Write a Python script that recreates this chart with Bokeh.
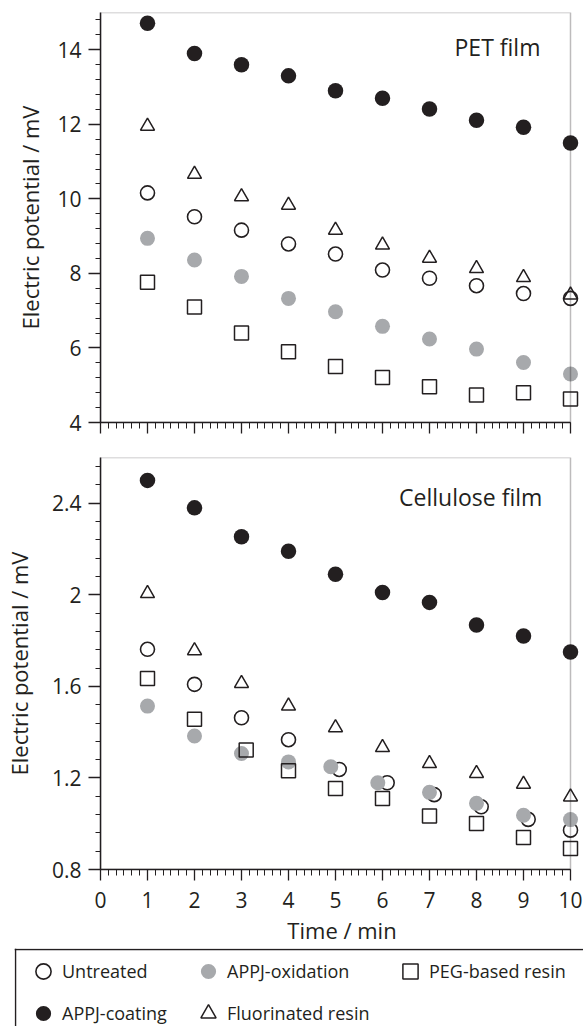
import math
from bokeh.plotting import figure
from bokeh.layouts import column, row
from bokeh.models import (FixedTicker, NumeralTickFormatter, CustomJSTickFormatter, BoxAnnotation,
                          Label, Legend, LegendItem, Span)
from bokeh.embed import file_html
from bokeh.resources import INLINE

# ---------------- data ----------------
time_min = [1, 2, 3, 4, 5, 6, 7, 8, 9, 10]

pet_untreated = [10.16, 9.52, 9.16, 8.79, 8.52, 8.09, 7.87, 7.67, 7.46, 7.33]
pet_oxidation = [8.94, 8.36, 7.92, 7.33, 6.97, 6.58, 6.24, 5.97, 5.61, 5.30]
pet_peg = [7.76, 7.10, 6.40, 5.90, 5.50, 5.21, 4.96, 4.74, 4.80, 4.63]
pet_coating = [14.71, 13.90, 13.60, 13.30, 12.90, 12.70, 12.41, 12.11, 11.92, 11.50]
pet_fluor = [11.95, 10.66, 10.06, 9.83, 9.16, 8.76, 8.41, 8.13, 7.89, 7.42]

cel_untreated_t = [1, 2, 3, 4, 5.08, 6.1, 7.1, 8.1, 9.1, 10]
cel_untreated = [1.762, 1.609, 1.463, 1.367, 1.237, 1.179, 1.127, 1.074, 1.019, 0.972]
cel_oxidation_t = [1, 2, 3, 4, 4.9, 5.9, 7, 8, 9, 10]
cel_oxidation = [1.514, 1.383, 1.307, 1.270, 1.249, 1.179, 1.137, 1.089, 1.037, 1.018]
cel_peg_t = [1, 2, 3.1, 4, 5, 6, 7, 8, 9, 10]
cel_peg = [1.635, 1.456, 1.322, 1.231, 1.154, 1.110, 1.034, 1.001, 0.940, 0.892]
cel_coating = [2.50, 2.38, 2.254, 2.19, 2.09, 2.01, 1.967, 1.868, 1.82, 1.75]
cel_fluor = [2.006, 1.756, 1.613, 1.514, 1.420, 1.333, 1.263, 1.220, 1.173, 1.117]

x_ticks = [0, 1, 2, 3, 4, 5, 6, 7, 8, 9, 10]
pet_yticks = [4, 6, 8, 10, 12, 14]
cel_yticks = [0.8, 1.2, 1.6, 2.0, 2.4]

series_names = ["Untreated", "APPJ-oxidation", "PEG-based resin", "APPJ-coating", "Fluorinated resin"]

# ---------------- style ----------------
INK = "#231f20"
GRAY = "#a7a9ac"
FONT = "Open Sans"
NAN = float("nan")

x_minor = [i / 6 for i in range(61)]


def style_axes(p):
    for ax in p.axis:
        ax.axis_line_color = INK
        ax.axis_line_width = 1.5
        ax.major_tick_line_color = INK
        ax.major_tick_line_width = 1.3
        ax.minor_tick_line_color = INK
        ax.minor_tick_line_width = 1
        ax.major_tick_in = 0
        ax.minor_tick_in = 0
        ax.major_label_text_font = FONT
        ax.major_label_text_font_size = "21px"
        ax.major_label_text_color = INK
        ax.axis_label_text_font = FONT
        ax.axis_label_text_font_size = "22px"
        ax.axis_label_text_font_style = "normal"
        ax.axis_label_text_color = INK
    p.xaxis.major_tick_out = 11
    p.xaxis.minor_tick_out = 6
    p.yaxis.major_tick_out = 12
    p.yaxis.minor_tick_out = 5


def panel(height, ylo, yhi, yticks, ystep, border_top, border_bottom, fmt, ylabel_standoff):
    p = figure(width=583, height=height, x_range=(0, 10.2766), y_range=(ylo, yhi),
               output_backend="svg", toolbar_location=None,
               min_border_left=100, min_border_right=0,
               min_border_top=border_top, min_border_bottom=border_bottom)
    p.outline_line_color = None
    p.grid.visible = False
    p.xaxis.ticker = FixedTicker(ticks=x_ticks, minor_ticks=x_minor)
    p.xaxis.bounds = (0, 10)
    n = int(round((yhi - ylo) / ystep))
    p.yaxis.ticker = FixedTicker(ticks=yticks, minor_ticks=[ylo + i * ystep for i in range(n + 1)])
    p.yaxis.formatter = NumeralTickFormatter(format=fmt)
    p.yaxis.axis_label = "Electric potential / mV"
    p.yaxis.major_label_standoff = 7
    p.yaxis.axis_label_standoff = ylabel_standoff
    style_axes(p)
    p.add_layout(BoxAnnotation(left=0, right=10, bottom=ylo, top=yhi, fill_color=None,
                               fill_alpha=0, line_color=INK, line_width=1.5))
    return p


def draw(p, tu, yu, to, yo, tp, yp, tc, yc, tf, yf):
    p.scatter(tu, yu, marker="circle", size=14, fill_color=None, line_color=INK, line_width=1.6)
    p.scatter(to, yo, marker="circle", size=15, fill_color=GRAY, line_color=None)
    p.scatter(tp, yp, marker="square", size=14, fill_color=None, line_color=INK, line_width=1.5)
    p.scatter(tf, yf, marker="triangle", size=14, fill_color=None, line_color=INK, line_width=1.5)
    p.scatter(tc, yc, marker="circle", size=15.5, fill_color=INK, line_color=None)


# ---------------- top panel: PET ----------------
top = panel(440, 4, 15, pet_yticks, 0.4, 12, 18, "0", 9)
top.xaxis.formatter = CustomJSTickFormatter(code="return ''")
top.xaxis.major_label_standoff = 0
draw(top, time_min, pet_untreated, time_min, pet_oxidation, time_min, pet_peg,
     time_min, pet_coating, time_min, pet_fluor)
top.add_layout(Label(x=9.36, y=14.08, text="PET film", text_align="right",
                     text_baseline="alphabetic", text_font=FONT, text_font_size="23px",
                     text_color=INK))

# ---------------- bottom panel: Cellulose ----------------
bot = panel(508, 0.8, 2.6, cel_yticks, 0.08, 17, 79, "0.[0]", 15)
bot.xaxis.axis_label = "Time / min"
bot.xaxis.major_label_standoff = 11
bot.xaxis.axis_label_standoff = 4
draw(bot, cel_untreated_t, cel_untreated, cel_oxidation_t, cel_oxidation, cel_peg_t, cel_peg,
     time_min, cel_coating, time_min, cel_fluor)
bot.add_layout(Label(x=9.40, y=2.428, text="Cellulose film", text_align="right",
                     text_baseline="alphabetic", text_font=FONT, text_font_size="23px",
                     text_color=INK))

# ---------------- legend strip ----------------
leg = figure(width=583, height=78, x_range=(-1, 568), y_range=(-77, 1),
             output_backend="svg", toolbar_location=None,
             x_axis_location=None, y_axis_location=None,
             min_border_left=14, min_border_right=0, min_border_top=0, min_border_bottom=0)
leg.outline_line_color = None
leg.grid.visible = False
leg.add_layout(Span(location=0, dimension="width", line_color=INK, line_width=1.5))
leg.add_layout(Span(location=0, dimension="height", line_color=INK, line_width=1.5))

r_unt = leg.scatter(x=[NAN], y=[NAN], marker="circle", fill_color=None, line_color=INK, line_width=1.6)
r_oxi = leg.scatter(x=[NAN], y=[NAN], marker="circle", fill_color=GRAY, line_color=None)
r_peg = leg.scatter(x=[NAN], y=[NAN], marker="square", fill_color=None, line_color=INK, line_width=1.5)
r_coa = leg.scatter(x=[NAN], y=[NAN], marker="circle", fill_color=INK, line_color=None)
r_flu = leg.scatter(x=[NAN], y=[NAN], marker="triangle", fill_color=None, line_color=INK, line_width=1.5)


def add_legend(items, x, y):
    lg = Legend(items=items, location=(x, y), orientation="vertical", padding=0, margin=0,
                spacing=4, glyph_width=38, glyph_height=38, label_height=38, label_standoff=0,
                label_text_font=FONT, label_text_font_size="18px", label_text_color=INK,
                border_line_color=None, background_fill_alpha=0)
    leg.add_layout(lg)


add_legend([LegendItem(label=series_names[0], renderers=[r_unt]),
            LegendItem(label=series_names[3], renderers=[r_coa])], 10, -6)
add_legend([LegendItem(label=series_names[1], renderers=[r_oxi]),
            LegendItem(label=series_names[4], renderers=[r_flu])], 175, -6)
add_legend([LegendItem(label=series_names[2], renderers=[r_peg])], 377, 36)

layout = column(top, bot, row(leg))
open("out.html", "w").write(file_html(layout, INLINE))
